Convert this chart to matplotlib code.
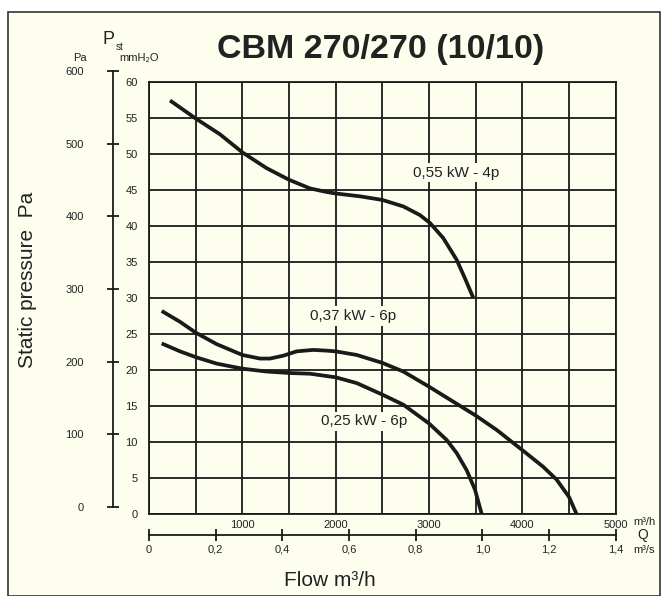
import matplotlib
matplotlib.use("Agg")
import matplotlib.pyplot as plt
from matplotlib.patches import Rectangle

plt.rcParams['font.family'] = ['Liberation Sans', 'DejaVu Sans']

# ---------------- data (flow m3/h, static pressure mmH2O) ----------------
q_055 = [225, 500, 761, 1000, 1261, 1500, 1725, 1904, 2000, 2261, 2500, 2725, 2903,
         3011, 3153, 3296, 3386, 3475]
p_055 = [57.4, 54.9, 52.7, 50.2, 48.0, 46.4, 45.2, 44.7, 44.5, 44.1, 43.6, 42.7, 41.5,
         40.4, 38.3, 35.3, 32.7, 30.0]

q_037 = [136, 332, 500, 725, 1000, 1189, 1296, 1439, 1582, 1760, 1904, 2000, 2225, 2500,
         2725, 3000, 3225, 3500, 3725, 4000, 4222, 4368, 4500, 4582]
p_037 = [28.2, 26.7, 25.2, 23.6, 22.1, 21.6, 21.6, 22.0, 22.6, 22.8, 22.7, 22.6, 22.1, 21.0,
         19.8, 17.7, 15.9, 13.7, 11.7, 8.9, 6.6, 4.8, 2.4, 0.0]

q_025 = [136, 332, 500, 725, 1000, 1261, 1500, 1725, 2000, 2225, 2500, 2725, 3000, 3190,
         3296, 3404, 3493, 3565]
p_025 = [23.7, 22.6, 21.8, 20.9, 20.2, 19.8, 19.6, 19.5, 19.0, 18.2, 16.6, 15.2, 12.6, 10.3,
         8.5, 6.1, 3.4, 0.0]

curve_labels = ["0,55 kW - 4p", "0,37 kW - 6p", "0,25 kW - 6p"]
title = "CBM 270/270 (10/10)"

flow_ticks = [1000, 2000, 3000, 4000, 5000]
mm_ticks = list(range(0, 61, 5))
pa_ticks = [0, 100, 200, 300, 400, 500, 600]
q_ticks = [0, 0.2, 0.4, 0.6, 0.8, 1.0, 1.2, 1.4]
q_tick_labels = ["0", "0,2", "0,4", "0,6", "0,8", "1,0", "1,2", "1,4"]

# ---------------- figure ----------------
W, H = 662, 596
BG = '#FEFEEE'
INK = '#1a1a1a'
TXT = '#222222'
fig = plt.figure(figsize=(W / 100, H / 100), dpi=100)
fig.patch.set_facecolor('white')


def fx(px):
    return px / W


def fy(py):
    return 1 - py / H


# frame / background
fig.patches.append(Rectangle((fx(8), fy(596)), fx(660) - fx(8), fy(12) - fy(596),
                             transform=fig.transFigure, facecolor=BG,
                             edgecolor='#333333', linewidth=1.2, zorder=-10))

# main axes
L, R, T, B = 149, 615.7, 81.7, 514.3
ax = fig.add_axes([fx(L), fy(B), fx(R) - fx(L), fy(T) - fy(B)])
ax.set_facecolor(BG)
ax.set_xlim(0, 5000)
ax.set_ylim(0, 60)
ax.set_xticks(range(0, 5001, 500))
ax.set_yticks(mm_ticks)
ax.grid(True, color=INK, linewidth=1.3)
ax.set_axisbelow(True)
for s in ax.spines.values():
    s.set_color(INK)
    s.set_linewidth(1.3)
ax.tick_params(length=0, labelsize=8, colors=TXT, pad=4)
ax.set_xticklabels(['' if v not in flow_ticks else str(v) for v in range(0, 5001, 500)])
ax.tick_params(axis='y', pad=8)

lw = 2.7
for q, p in ((q_055, p_055), (q_037, p_037), (q_025, p_025)):
    ax.plot(q, p, color=INK, linewidth=lw, solid_capstyle='butt',
            solid_joinstyle='round', zorder=5)

box = dict(facecolor=BG, edgecolor='none', pad=2)
ax.text(3290, 47.4, curve_labels[0], fontsize=11, color=TXT, ha='center', va='center', bbox=box, zorder=6)
ax.text(2190, 27.5, curve_labels[1], fontsize=11, color=TXT, ha='center', va='center', bbox=box, zorder=6)
ax.text(2310, 12.9, curve_labels[2], fontsize=11, color=TXT, ha='center', va='center', bbox=box, zorder=6)

fig.text(fx(633), fy(522), "m\u00b3/h", fontsize=8, color=TXT, ha='left', va='center')

# Pa axis
pa_top, pa_bot, pa_x = 71, 507, 113
axp = fig.add_axes([fx(pa_x), fy(pa_bot), 0.0001, fy(pa_top) - fy(pa_bot)])
axp.set_ylim(0, 600)
axp.patch.set_visible(False)
for k in ['top', 'right', 'bottom']:
    axp.spines[k].set_visible(False)
axp.spines['left'].set_color(INK)
axp.spines['left'].set_linewidth(1.3)
axp.set_xticks([])
axp.set_yticks(pa_ticks)
axp.tick_params(axis='y', direction='inout', length=8, width=1.3, color=INK,
                labelsize=8, labelcolor=TXT, pad=17)

# Q axis (m3/s)
q_y = 535
axq = fig.add_axes([fx(L), fy(q_y), fx(R) - fx(L), 0.0001])
axq.set_xlim(0, 1.4)
axq.patch.set_visible(False)
for k in ['top', 'right', 'left']:
    axq.spines[k].set_visible(False)
axq.spines['bottom'].set_color(INK)
axq.spines['bottom'].set_linewidth(1.3)
axq.set_yticks([])
axq.set_xticks(q_ticks)
axq.set_xticklabels(q_tick_labels)
axq.tick_params(axis='x', direction='inout', length=8, width=1.3, color=INK,
                labelsize=8, labelcolor=TXT, pad=3)
fig.text(fx(643), fy(535), "Q", fontsize=10, color=TXT, ha='center', va='center')
fig.text(fx(633), fy(550), "m\u00b3/s", fontsize=8, color=TXT, ha='left', va='center')

# headers
fig.text(fx(80), fy(58), "Pa", fontsize=8, color=TXT, ha='center', va='center')
fig.text(fx(108), fy(40), "P", fontsize=13, color=TXT, ha='center', va='center')
fig.text(fx(116), fy(47), "st", fontsize=7, color=TXT, ha='left', va='center')
fig.text(fx(119), fy(58), "mmH\u2082O", fontsize=8, color=TXT, ha='left', va='center')

fig.text(fx(381), fy(58), title, fontsize=24.5, fontweight='bold', color=TXT,
         ha='center', va='baseline')
fig.text(fx(28), fy(280), "Static pressure  Pa", fontsize=15, color=TXT, rotation=90,
         ha='center', va='center')
fig.text(fx(330), fy(580), "Flow m\u00b3/h", fontsize=15, color=TXT, ha='center', va='center')

fig.savefig("out.png", dpi=100, facecolor=fig.get_facecolor())
